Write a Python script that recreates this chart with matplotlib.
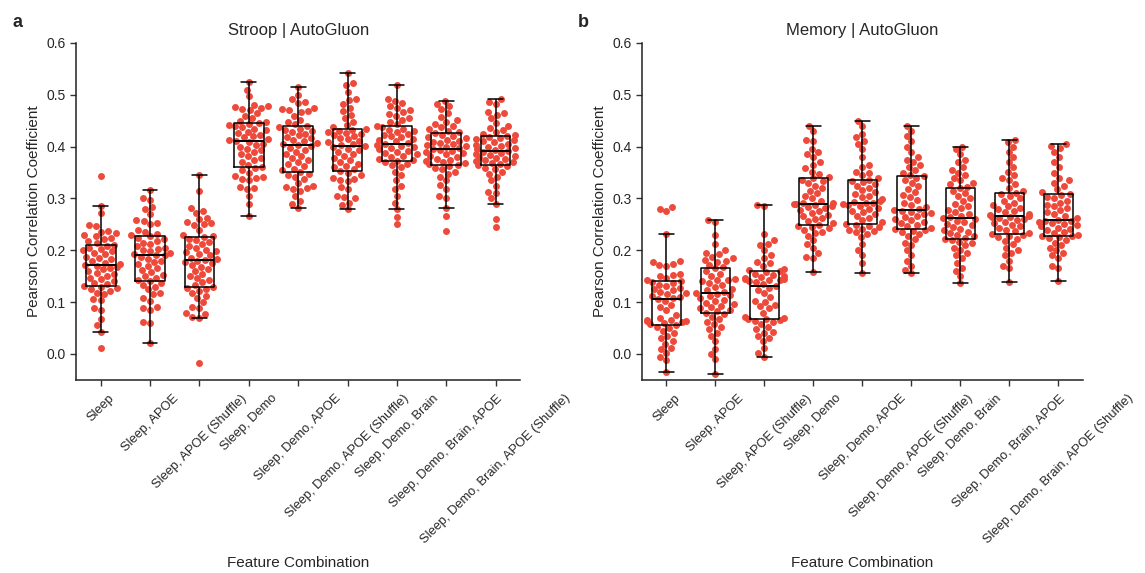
import numpy as np
import pandas as pd
import matplotlib
matplotlib.use("Agg")
import matplotlib.pyplot as plt
import seaborn as sns

labels = [
    "Sleep",
    "Sleep, APOE",
    "Sleep, APOE (Shuffle)",
    "Sleep, Demo",
    "Sleep, Demo, APOE",
    "Sleep, Demo, APOE (Shuffle)",
    "Sleep, Demo, Brain",
    "Sleep, Demo, Brain, APOE",
    "Sleep, Demo, Brain, APOE (Shuffle)",
]

# Pearson r per split, Stroop task
stroop_sleep = [0.011, 0.043, 0.055, 0.068, 0.085, 0.088, 0.104, 0.106, 0.116, 0.118, 0.122, 0.125, 0.127, 0.130,
                0.132, 0.135, 0.137, 0.140, 0.145, 0.147, 0.150, 0.154, 0.156, 0.160, 0.163, 0.165, 0.167, 0.170,
                0.172, 0.174, 0.176, 0.180, 0.183, 0.185, 0.188, 0.192, 0.195, 0.198, 0.200, 0.202, 0.205, 0.208,
                0.211, 0.214, 0.218, 0.221, 0.224, 0.227, 0.230, 0.233, 0.236, 0.238, 0.246, 0.248, 0.272, 0.286, 0.343]
stroop_apoe = [0.021, 0.060, 0.062, 0.085, 0.088, 0.090, 0.103, 0.108, 0.115, 0.118, 0.125, 0.130, 0.133, 0.137,
               0.140, 0.143, 0.147, 0.150, 0.153, 0.158, 0.162, 0.165, 0.170, 0.173, 0.177, 0.180, 0.184, 0.187,
               0.190, 0.191, 0.193, 0.195, 0.198, 0.200, 0.203, 0.205, 0.208, 0.212, 0.215, 0.218, 0.221, 0.224,
               0.227, 0.229, 0.232, 0.236, 0.240, 0.250, 0.253, 0.256, 0.258, 0.270, 0.280, 0.283, 0.298, 0.301, 0.317]
stroop_apoe_shuf = [-0.018, 0.070, 0.072, 0.078, 0.080, 0.088, 0.091, 0.100, 0.108, 0.112, 0.118, 0.122, 0.126, 0.128,
                    0.130, 0.133, 0.138, 0.142, 0.147, 0.150, 0.155, 0.160, 0.163, 0.168, 0.172, 0.175, 0.178, 0.180,
                    0.182, 0.184, 0.186, 0.190, 0.193, 0.196, 0.198, 0.200, 0.205, 0.208, 0.212, 0.216, 0.219, 0.222,
                    0.225, 0.227, 0.230, 0.240, 0.248, 0.250, 0.253, 0.255, 0.260, 0.263, 0.272, 0.276, 0.282, 0.315, 0.345]
stroop_demo = [0.266, 0.290, 0.305, 0.318, 0.320, 0.322, 0.335, 0.338, 0.340, 0.342, 0.344, 0.350, 0.355, 0.358,
               0.361, 0.365, 0.370, 0.374, 0.378, 0.382, 0.386, 0.390, 0.393, 0.396, 0.400, 0.403, 0.406, 0.409,
               0.411, 0.413, 0.415, 0.418, 0.420, 0.423, 0.426, 0.429, 0.432, 0.435, 0.437, 0.439, 0.441, 0.443,
               0.445, 0.447, 0.450, 0.455, 0.460, 0.465, 0.470, 0.472, 0.475, 0.477, 0.479, 0.481, 0.497, 0.510, 0.525]
stroop_demo_apoe = [0.282, 0.290, 0.295, 0.305, 0.315, 0.318, 0.320, 0.322, 0.325, 0.330, 0.338, 0.342, 0.345, 0.348,
                    0.351, 0.354, 0.357, 0.362, 0.366, 0.370, 0.374, 0.378, 0.382, 0.386, 0.390, 0.394, 0.398, 0.401,
                    0.403, 0.405, 0.407, 0.410, 0.413, 0.416, 0.419, 0.422, 0.425, 0.428, 0.430, 0.433, 0.435, 0.438,
                    0.440, 0.443, 0.447, 0.452, 0.460, 0.466, 0.468, 0.470, 0.472, 0.474, 0.485, 0.487, 0.492, 0.500, 0.515]
stroop_demo_apoe_shuf = [0.279, 0.288, 0.292, 0.300, 0.302, 0.305, 0.318, 0.322, 0.334, 0.336, 0.338, 0.340, 0.345, 0.350,
                         0.353, 0.356, 0.360, 0.363, 0.367, 0.370, 0.374, 0.378, 0.382, 0.386, 0.390, 0.393, 0.396, 0.399,
                         0.401, 0.403, 0.405, 0.408, 0.411, 0.414, 0.417, 0.420, 0.422, 0.425, 0.427, 0.429, 0.431, 0.433,
                         0.435, 0.438, 0.442, 0.448, 0.455, 0.462, 0.468, 0.475, 0.482, 0.490, 0.492, 0.505, 0.518, 0.522, 0.542]
stroop_brain = [0.250, 0.264, 0.279, 0.292, 0.305, 0.318, 0.325, 0.335, 0.345, 0.352, 0.360, 0.364, 0.367, 0.370,
                0.373, 0.375, 0.377, 0.380, 0.382, 0.385, 0.388, 0.390, 0.392, 0.395, 0.397, 0.399, 0.401, 0.403,
                0.405, 0.407, 0.410, 0.412, 0.415, 0.418, 0.420, 0.423, 0.425, 0.428, 0.431, 0.433, 0.435, 0.437,
                0.440, 0.443, 0.447, 0.452, 0.455, 0.460, 0.463, 0.466, 0.470, 0.474, 0.478, 0.484, 0.488, 0.492, 0.518]
stroop_brain_apoe = [0.238, 0.267, 0.282, 0.300, 0.305, 0.318, 0.326, 0.335, 0.342, 0.348, 0.352, 0.356, 0.359, 0.362,
                     0.364, 0.366, 0.368, 0.370, 0.372, 0.375, 0.377, 0.380, 0.382, 0.385, 0.387, 0.389, 0.391, 0.393,
                     0.395, 0.397, 0.399, 0.401, 0.403, 0.405, 0.407, 0.409, 0.411, 0.413, 0.416, 0.418, 0.420, 0.423,
                     0.426, 0.428, 0.431, 0.434, 0.437, 0.440, 0.444, 0.448, 0.452, 0.458, 0.465, 0.472, 0.478, 0.483, 0.489]
stroop_brain_apoe_shuf = [0.245, 0.261, 0.289, 0.300, 0.310, 0.312, 0.325, 0.335, 0.342, 0.348, 0.352, 0.356, 0.359, 0.362,
                          0.364, 0.366, 0.368, 0.370, 0.372, 0.374, 0.376, 0.378, 0.380, 0.382, 0.384, 0.386, 0.388, 0.390,
                          0.392, 0.394, 0.396, 0.398, 0.400, 0.402, 0.404, 0.406, 0.408, 0.410, 0.412, 0.414, 0.416, 0.418,
                          0.420, 0.422, 0.425, 0.428, 0.432, 0.436, 0.440, 0.445, 0.455, 0.462, 0.465, 0.467, 0.483, 0.486, 0.492]

# Pearson r per split, Memory task
memory_sleep = [-0.035, -0.012, -0.005, 0.002, 0.010, 0.012, 0.020, 0.025, 0.030, 0.035, 0.040, 0.045, 0.050, 0.053,
                0.056, 0.058, 0.060, 0.062, 0.063, 0.064, 0.065, 0.066, 0.070, 0.075, 0.085, 0.090, 0.095, 0.102,
                0.106, 0.108, 0.110, 0.112, 0.115, 0.118, 0.120, 0.123, 0.126, 0.128, 0.131, 0.134, 0.137, 0.139,
                0.141, 0.143, 0.146, 0.150, 0.152, 0.155, 0.170, 0.172, 0.174, 0.178, 0.180, 0.231, 0.276, 0.280, 0.284]
memory_apoe = [-0.039, -0.010, 0.000, 0.010, 0.025, 0.035, 0.040, 0.048, 0.052, 0.058, 0.062, 0.068, 0.072, 0.077,
               0.080, 0.082, 0.085, 0.088, 0.090, 0.093, 0.096, 0.099, 0.102, 0.105, 0.108, 0.111, 0.113, 0.116,
               0.118, 0.120, 0.123, 0.126, 0.130, 0.134, 0.137, 0.140, 0.142, 0.143, 0.145, 0.150, 0.155, 0.160,
               0.165, 0.168, 0.172, 0.178, 0.180, 0.182, 0.185, 0.188, 0.192, 0.195, 0.200, 0.212, 0.230, 0.255, 0.258]
memory_apoe_shuf = [-0.005, 0.002, 0.012, 0.025, 0.030, 0.035, 0.040, 0.042, 0.048, 0.052, 0.058, 0.062, 0.064, 0.066,
                    0.067, 0.068, 0.070, 0.072, 0.080, 0.088, 0.092, 0.095, 0.100, 0.103, 0.110, 0.118, 0.124, 0.128,
                    0.132, 0.135, 0.138, 0.140, 0.142, 0.143, 0.144, 0.145, 0.146, 0.148, 0.150, 0.153, 0.155, 0.158,
                    0.160, 0.162, 0.163, 0.170, 0.175, 0.178, 0.185, 0.190, 0.200, 0.210, 0.212, 0.220, 0.232, 0.285, 0.288]
memory_demo = [0.159, 0.185, 0.188, 0.195, 0.205, 0.212, 0.220, 0.228, 0.233, 0.236, 0.240, 0.243, 0.245, 0.247,
               0.249, 0.252, 0.256, 0.260, 0.263, 0.266, 0.269, 0.272, 0.275, 0.278, 0.281, 0.284, 0.286, 0.288,
               0.289, 0.290, 0.291, 0.292, 0.295, 0.300, 0.305, 0.310, 0.315, 0.320, 0.325, 0.330, 0.333, 0.336,
               0.339, 0.342, 0.348, 0.352, 0.358, 0.365, 0.370, 0.380, 0.385, 0.390, 0.395, 0.410, 0.412, 0.430, 0.440]
memory_demo_apoe = [0.156, 0.175, 0.190, 0.200, 0.212, 0.225, 0.232, 0.235, 0.237, 0.239, 0.242, 0.245, 0.247, 0.249,
                    0.251, 0.254, 0.258, 0.262, 0.266, 0.270, 0.273, 0.276, 0.279, 0.282, 0.285, 0.287, 0.289, 0.291,
                    0.292, 0.294, 0.296, 0.299, 0.302, 0.305, 0.308, 0.312, 0.316, 0.320, 0.324, 0.328, 0.331, 0.334,
                    0.336, 0.340, 0.345, 0.350, 0.352, 0.360, 0.365, 0.380, 0.395, 0.405, 0.410, 0.418, 0.425, 0.440, 0.450]
memory_demo_apoe_shuf = [0.156, 0.162, 0.170, 0.180, 0.190, 0.200, 0.210, 0.215, 0.222, 0.228, 0.232, 0.235, 0.238, 0.240,
                         0.241, 0.243, 0.246, 0.249, 0.252, 0.255, 0.258, 0.261, 0.264, 0.267, 0.270, 0.272, 0.274, 0.276,
                         0.277, 0.280, 0.284, 0.288, 0.292, 0.297, 0.302, 0.307, 0.312, 0.318, 0.324, 0.330, 0.335, 0.340,
                         0.343, 0.346, 0.350, 0.355, 0.360, 0.365, 0.370, 0.375, 0.380, 0.390, 0.400, 0.410, 0.420, 0.430, 0.440]
memory_brain = [0.136, 0.150, 0.160, 0.165, 0.175, 0.185, 0.190, 0.195, 0.200, 0.205, 0.210, 0.214, 0.217, 0.219,
                0.221, 0.224, 0.227, 0.230, 0.233, 0.236, 0.239, 0.242, 0.245, 0.248, 0.251, 0.254, 0.257, 0.260,
                0.262, 0.264, 0.267, 0.270, 0.274, 0.278, 0.282, 0.286, 0.290, 0.295, 0.300, 0.305, 0.310, 0.315,
                0.320, 0.323, 0.327, 0.330, 0.335, 0.340, 0.345, 0.350, 0.355, 0.360, 0.370, 0.375, 0.385, 0.395, 0.400]
memory_brain_apoe = [0.139, 0.165, 0.170, 0.180, 0.190, 0.195, 0.200, 0.205, 0.212, 0.218, 0.222, 0.225, 0.228, 0.230,
                     0.232, 0.234, 0.237, 0.240, 0.243, 0.246, 0.249, 0.252, 0.255, 0.258, 0.260, 0.262, 0.264, 0.265,
                     0.266, 0.268, 0.270, 0.273, 0.276, 0.279, 0.282, 0.285, 0.288, 0.292, 0.296, 0.300, 0.304, 0.308,
                     0.311, 0.315, 0.320, 0.328, 0.335, 0.340, 0.345, 0.352, 0.360, 0.370, 0.380, 0.390, 0.400, 0.408, 0.413]
memory_brain_apoe_shuf = [0.140, 0.165, 0.170, 0.185, 0.190, 0.195, 0.200, 0.205, 0.210, 0.215, 0.220, 0.223, 0.225, 0.227,
                          0.228, 0.230, 0.233, 0.236, 0.239, 0.242, 0.244, 0.246, 0.248, 0.250, 0.252, 0.254, 0.256, 0.257,
                          0.259, 0.262, 0.266, 0.270, 0.274, 0.278, 0.282, 0.285, 0.288, 0.292, 0.296, 0.300, 0.303, 0.306,
                          0.308, 0.312, 0.318, 0.325, 0.330, 0.335, 0.340, 0.350, 0.360, 0.370, 0.380, 0.390, 0.398, 0.402, 0.405]

stroop = [stroop_sleep, stroop_apoe, stroop_apoe_shuf, stroop_demo, stroop_demo_apoe,
          stroop_demo_apoe_shuf, stroop_brain, stroop_brain_apoe, stroop_brain_apoe_shuf]
memory = [memory_sleep, memory_apoe, memory_apoe_shuf, memory_demo, memory_demo_apoe,
          memory_demo_apoe_shuf, memory_brain, memory_brain_apoe, memory_brain_apoe_shuf]

dot_color = "#EE4A3B"

sns.set_style("ticks")
plt.rcParams["font.family"] = ["Liberation Sans", "DejaVu Sans"]


def to_frame(groups):
    rows = []
    for name, vals in zip(labels, groups):
        for v in vals:
            rows.append((name, v))
    return pd.DataFrame(rows, columns=["combo", "r"])


def draw_panel(ax, groups, title):
    df = to_frame(groups)
    sns.swarmplot(data=df, x="combo", y="r", order=labels, color=dot_color,
                  size=5, ax=ax, zorder=1)
    sns.boxplot(data=df, x="combo", y="r", order=labels, fill=False, color="black",
                width=0.6, linewidth=1.1, showfliers=False, ax=ax,
                boxprops=dict(zorder=3), medianprops=dict(zorder=3, linewidth=1.4),
                whiskerprops=dict(zorder=3), capprops=dict(zorder=3))
    ax.set_xlim(-0.5, 8.5)
    ax.set_ylim(-0.05, 0.6)
    ax.set_yticks([0.0, 0.1, 0.2, 0.3, 0.4, 0.5, 0.6])
    ax.set_yticklabels(["0.0", "0.1", "0.2", "0.3", "0.4", "0.5", "0.6"])
    ax.set_xticks(range(len(labels)))
    ax.set_xticklabels(labels, rotation=45, ha="center", fontsize=9.3)
    ax.tick_params(axis="y", labelsize=10)
    ax.tick_params(axis="x", pad=5)
    ax.tick_params(length=4, width=1, color="#333333")
    ax.set_xlabel("Feature Combination", fontsize=11, labelpad=7)
    ax.set_ylabel("Pearson Correlation Coefficient", fontsize=11)
    ax.set_title(title, fontsize=12)
    for s in ["left", "bottom"]:
        ax.spines[s].set_linewidth(1.1)
        ax.spines[s].set_color("#222222")
    sns.despine(ax=ax)


fig = plt.figure(figsize=(11.45, 5.73), dpi=100)
ax_a = fig.add_axes([0.0664, 0.337, 0.388, 0.588])
ax_b = fig.add_axes([0.5607, 0.337, 0.385, 0.588])

draw_panel(ax_a, stroop, "Stroop | AutoGluon")
draw_panel(ax_b, memory, "Memory | AutoGluon")

fig.text(0.011, 0.975, "a", fontsize=13, fontweight="bold", va="top")
fig.text(0.505, 0.975, "b", fontsize=13, fontweight="bold", va="top")

fig.savefig("out.png", dpi=100, facecolor="white")
